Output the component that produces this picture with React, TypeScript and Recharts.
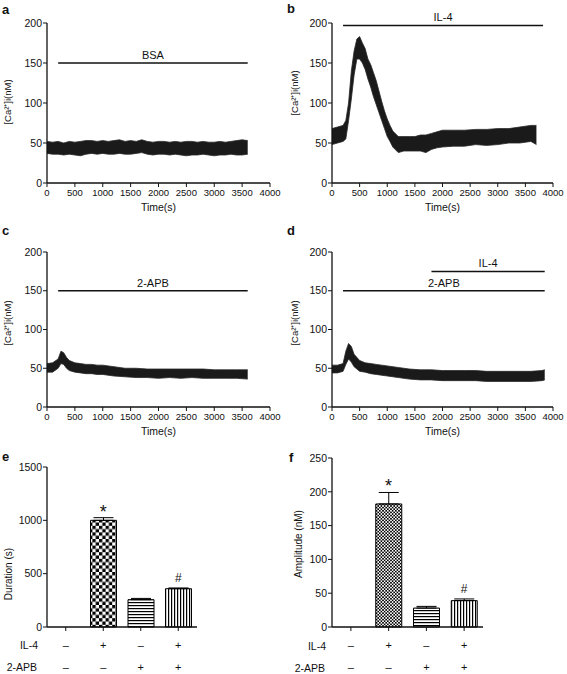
import React from 'react'
import {
  ComposedChart,
  Area,
  Bar,
  Cell,
  ErrorBar,
  Scatter,
  XAxis,
  YAxis,
  ReferenceLine,
} from 'recharts'

const FONT = '"Liberation Sans", Arial, Helvetica, sans-serif'
const INK = '#111'

// shared axes
const timeTicks = [0, 500, 1000, 1500, 2000, 2500, 3000, 3500, 4000]
const caTicks = [0, 50, 100, 150, 200]

// panel a: BSA, band of the noisy trace (low / high edge)
const bsaTime = [0, 100, 200, 300, 400, 500, 600, 700, 800, 900, 1000, 1100, 1200, 1300, 1400, 1500, 1600, 1700, 1800, 1900, 2000, 2100, 2200, 2300, 2400, 2500, 2600, 2700, 2800, 2900, 3000, 3100, 3200, 3300, 3400, 3500, 3600]
const bsaLow = [37, 36, 36, 35, 36, 35, 34, 36, 37, 36, 37, 36, 36, 37, 36, 36, 37, 38, 36, 35, 36, 36, 35, 36, 35, 34, 35, 35, 36, 35, 34, 35, 35, 36, 35, 35, 36]
const bsaHigh = [52, 51, 52, 50, 52, 51, 52, 53, 53, 52, 53, 52, 53, 54, 52, 53, 52, 54, 52, 51, 52, 52, 51, 52, 51, 52, 52, 51, 52, 51, 51, 52, 51, 52, 53, 54, 53]

// panel b: IL-4
const il4Time = [0, 100, 200, 250, 300, 350, 400, 450, 500, 550, 600, 650, 700, 750, 800, 850, 900, 950, 1000, 1050, 1100, 1200, 1300, 1400, 1500, 1600, 1700, 1800, 1900, 2000, 2200, 2400, 2600, 2800, 3000, 3200, 3400, 3600, 3700]
const il4Low = [48, 50, 52, 55, 78, 105, 135, 155, 155, 150, 142, 130, 120, 108, 98, 88, 78, 68, 58, 52, 45, 38, 40, 40, 40, 40, 38, 42, 44, 45, 46, 46, 48, 47, 48, 50, 50, 52, 48]
const il4High = [68, 70, 72, 78, 100, 140, 165, 180, 183, 175, 168, 155, 148, 138, 128, 115, 102, 90, 80, 72, 65, 58, 58, 58, 58, 60, 60, 62, 64, 66, 66, 66, 67, 67, 68, 68, 70, 72, 72]

// panel c: 2-APB
const apbTime = [0, 100, 200, 250, 300, 350, 400, 500, 600, 700, 800, 900, 1000, 1200, 1400, 1600, 1800, 2000, 2200, 2400, 2600, 2800, 3000, 3200, 3400, 3600]
const apbLow = [45, 45, 50, 56, 55, 50, 47, 45, 44, 43, 43, 42, 42, 40, 39, 38, 38, 37, 38, 37, 38, 37, 37, 37, 37, 36]
const apbHigh = [56, 57, 62, 72, 70, 64, 60, 57, 56, 55, 55, 54, 54, 52, 50, 50, 49, 49, 49, 49, 49, 49, 48, 48, 48, 48]

// panel d: 2-APB then IL-4
const bothTime = [0, 100, 200, 250, 300, 350, 400, 500, 600, 700, 800, 1000, 1200, 1400, 1600, 1800, 2000, 2200, 2400, 2600, 2800, 3000, 3200, 3400, 3600, 3800, 3850]
const bothLow = [44, 44, 46, 55, 62, 58, 52, 46, 45, 43, 42, 40, 38, 36, 35, 35, 34, 34, 34, 34, 33, 33, 33, 33, 33, 34, 35]
const bothHigh = [54, 54, 56, 72, 82, 78, 68, 60, 57, 56, 55, 53, 51, 49, 48, 48, 47, 47, 47, 47, 46, 46, 46, 46, 46, 47, 48]

// treatment bars: [label, start(s), end(s), level(nM)]
const bsaBars = [['BSA', 200, 3600, 150]]
const il4Bars = [['IL-4', 200, 3820, 197]]
const apbBars = [['2-APB', 200, 3600, 150]]
const bothBars = [['2-APB', 200, 3850, 150], ['IL-4', 1800, 3850, 175]]

// panels e, f
const groups = ['ctrl', 'il4', 'apb', 'both']
const il4Signs = ['–', '+', '–', '+']
const apbSigns = ['–', '–', '+', '+']
const durationMean = [0, 1000, 256, 359]
const durationErr = [0, 25, 12, 7]
const durationTicks = [0, 500, 1000, 1500]
const amplitudeMean = [0, 182, 28, 39]
const amplitudeErr = [0, 17, 2.5, 2.5]
const amplitudeTicks = [0, 50, 100, 150, 200, 250]
const marks = ['', '*', '', '#']

const axisLine = { stroke: INK, strokeWidth: 1.3 }
const tickLine = { stroke: INK, strokeWidth: 1 }

function toBand(time: number[], low: number[], high: number[]) {
  return time.map((t, i) => ({ t, band: [low[i], high[i]] }))
}

function Title({ x, y, text, size = 10 }: { x: number; y: number; text: string; size?: number }) {
  return (
    <div
      style={{
        position: 'absolute',
        left: x,
        top: y,
        transform: 'translate(-50%, -50%) rotate(-90deg)',
        whiteSpace: 'nowrap',
        fontSize: size,
        color: INK,
      }}
    >
      {text}
    </div>
  )
}

function Letter({ x, y, text }: { x: number; y: number; text: string }) {
  return (
    <div style={{ position: 'absolute', left: x, top: y, fontSize: 13, fontWeight: 'bold', lineHeight: 1 }}>
      {text}
    </div>
  )
}

function RowLabel({ right, y, text }: { right: number; y: number; text: string }) {
  return (
    <div
      style={{
        position: 'absolute',
        left: right - 60,
        width: 60,
        top: y - 7,
        lineHeight: '14px',
        textAlign: 'right',
        fontSize: 10.5,
        color: INK,
      }}
    >
      {text}
    </div>
  )
}

interface TraceProps {
  left: number
  top: number
  width: number
  height: number
  margin: { top: number; right: number; bottom: number; left: number }
  yWidth: number
  data: { t: number; band: number[] }[]
  bars: (string | number)[][]
}

function Trace({ left, top, width, height, margin, yWidth, data, bars }: TraceProps) {
  return (
    <div style={{ position: 'absolute', left, top }}>
      <ComposedChart width={width} height={height} data={data} margin={margin}>
        <XAxis
          type="number"
          dataKey="t"
          domain={[0, 4000]}
          ticks={timeTicks}
          interval={0}
          height={30}
          tickSize={4}
          tickMargin={2}
          axisLine={axisLine}
          tickLine={tickLine}
          tick={{ fontSize: 9.5, fill: INK, fontFamily: FONT }}
          label={{ value: 'Time(s)', position: 'insideBottom', offset: 2, fontSize: 10.5, fill: INK, fontFamily: FONT }}
        />
        <YAxis
          type="number"
          domain={[0, 200]}
          ticks={caTicks}
          interval={0}
          width={yWidth}
          tickSize={4}
          tickMargin={1}
          axisLine={axisLine}
          tickLine={tickLine}
          tick={{ fontSize: 10.5, fill: INK, fontFamily: FONT }}
        />
        <Area
          type="linear"
          dataKey="band"
          stroke="#262626"
          strokeWidth={0.8}
          fill="#1a1a1a"
          fillOpacity={1}
          dot={false}
          activeDot={false}
          isAnimationActive={false}
        />
        {bars.map(([label, start, end, level]) => (
          <ReferenceLine
            key={String(label) + level}
            segment={[
              { x: start as number, y: level as number },
              { x: end as number, y: level as number },
            ]}
            stroke={INK}
            strokeWidth={1.5}
            label={{ value: label, position: 'top', offset: 4, fontSize: 11, fill: INK, fontFamily: FONT }}
          />
        ))}
      </ComposedChart>
    </div>
  )
}

function SignTick(props: any) {
  const { x, y, index } = props
  const style = { fontSize: 11, fill: INK, fontFamily: FONT }
  return (
    <g>
      <text x={x} y={y + 12} textAnchor="middle" dominantBaseline="central" {...style}>
        {il4Signs[index]}
      </text>
      <text x={x} y={y + 34} textAnchor="middle" dominantBaseline="central" {...style}>
        {apbSigns[index]}
      </text>
    </g>
  )
}

function MarkShape(props: any) {
  const { cx, cy, payload } = props
  if (!payload.mark) return <g />
  const star = payload.mark === '*'
  return (
    <text
      x={cx}
      y={cy - (star ? 0 : 6)}
      textAnchor="middle"
      fontSize={star ? 18 : 12}
      fill={INK}
      fontFamily={FONT}
    >
      {payload.mark}
    </text>
  )
}

interface BarsProps {
  left: number
  top: number
  width: number
  height: number
  margin: { top: number; right: number; bottom: number; left: number }
  yWidth: number
  mean: number[]
  err: number[]
  ticks: number[]
  id: string
  cell: number
}

function BarPanel({ left, top, width, height, margin, yWidth, mean, err, ticks, id, cell }: BarsProps) {
  const data = groups.map((g, i) => ({
    group: g,
    mean: mean[i],
    err: [0, err[i]],
    markAt: mean[i] + err[i],
    mark: marks[i],
  }))
  const fills = ['none', `url(#${id}-check)`, `url(#${id}-h)`, `url(#${id}-v)`]
  return (
    <div style={{ position: 'absolute', left, top }}>
      <ComposedChart width={width} height={height} data={data} margin={margin}>
        <defs>
          <pattern id={`${id}-check`} patternUnits="userSpaceOnUse" width={cell * 2} height={cell * 2}>
            <rect width={cell * 2} height={cell * 2} fill="#fff" />
            <rect width={cell} height={cell} fill="#000" />
            <rect x={cell} y={cell} width={cell} height={cell} fill="#000" />
          </pattern>
          <pattern id={`${id}-h`} patternUnits="userSpaceOnUse" width={4} height={3}>
            <rect width={4} height={3} fill="#fff" />
            <rect width={4} height={1.2} fill="#000" />
          </pattern>
          <pattern id={`${id}-v`} patternUnits="userSpaceOnUse" width={3} height={4}>
            <rect width={3} height={4} fill="#fff" />
            <rect width={1.2} height={4} fill="#000" />
          </pattern>
        </defs>
        <XAxis
          dataKey="group"
          height={47}
          tickSize={4}
          tickMargin={2}
          axisLine={axisLine}
          tickLine={tickLine}
          tick={SignTick}
          interval={0}
        />
        <YAxis
          type="number"
          domain={[0, ticks[ticks.length - 1]]}
          ticks={ticks}
          interval={0}
          width={yWidth}
          tickSize={4}
          tickMargin={1}
          axisLine={axisLine}
          tickLine={tickLine}
          tick={{ fontSize: 10.5, fill: INK, fontFamily: FONT }}
        />
        <Bar dataKey="mean" barSize={26} stroke="#000" strokeWidth={1} isAnimationActive={false}>
          {data.map((d, i) => (
            <Cell key={d.group} fill={fills[i]} stroke={i === 0 ? 'none' : '#000'} />
          ))}
          <ErrorBar dataKey="err" width={10} stroke="#000" strokeWidth={1} direction="y" />
        </Bar>
        <Scatter dataKey="markAt" shape={MarkShape} isAnimationActive={false} />
      </ComposedChart>
    </div>
  )
}

export default function App() {
  return (
    <div
      style={{
        position: 'absolute',
        left: 0,
        top: 0,
        width: 567,
        height: 674,
        background: '#fff',
        fontFamily: FONT,
        color: INK,
        overflow: 'hidden',
      }}
    >
      <Trace
        left={0}
        top={0}
        width={283}
        height={220}
        margin={{ top: 23, right: 13, bottom: 7, left: 0 }}
        yWidth={47}
        data={toBand(bsaTime, bsaLow, bsaHigh)}
        bars={bsaBars}
      />
      <Trace
        left={283}
        top={0}
        width={284}
        height={220}
        margin={{ top: 23, right: 14, bottom: 7, left: 0 }}
        yWidth={49}
        data={toBand(il4Time, il4Low, il4High)}
        bars={il4Bars}
      />
      <Trace
        left={0}
        top={230}
        width={283}
        height={210}
        margin={{ top: 22, right: 13, bottom: 3, left: 0 }}
        yWidth={47}
        data={toBand(apbTime, apbLow, apbHigh)}
        bars={apbBars}
      />
      <Trace
        left={283}
        top={230}
        width={284}
        height={210}
        margin={{ top: 22, right: 14, bottom: 3, left: 0 }}
        yWidth={49}
        data={toBand(bothTime, bothLow, bothHigh)}
        bars={bothBars}
      />
      <BarPanel
        left={0}
        top={440}
        width={283}
        height={234}
        margin={{ top: 27, right: 86, bottom: 0, left: 0 }}
        yWidth={47}
        mean={durationMean}
        err={durationErr}
        ticks={durationTicks}
        id="dur"
        cell={3.3}
      />
      <BarPanel
        left={283}
        top={430}
        width={284}
        height={244}
        margin={{ top: 28, right: 84, bottom: 0, left: 0 }}
        yWidth={49}
        mean={amplitudeMean}
        err={amplitudeErr}
        ticks={amplitudeTicks}
        id="amp"
        cell={1.6}
      />

      <Title x={7} y={102} text="[Ca²⁺]i(nM)" size={9.5} />
      <Title x={294} y={93} text="[Ca²⁺]i(nM)" size={9.5} />
      <Title x={7} y={323} text="[Ca²⁺]i(nM)" size={9.5} />
      <Title x={294} y={323} text="[Ca²⁺]i(nM)" size={9.5} />
      <Title x={8} y={574} text="Duration (s)" />
      <Title x={298} y={544} text="Amplitude (nM)" />

      <RowLabel right={38} y={645} text="IL-4" />
      <RowLabel right={37} y={667} text="2-APB" />
      <RowLabel right={326} y={646} text="IL-4" />
      <RowLabel right={325} y={668} text="2-APB" />

      <Letter x={2} y={3} text="a" />
      <Letter x={287} y={2} text="b" />
      <Letter x={2} y={224} text="c" />
      <Letter x={287} y={224} text="d" />
      <Letter x={2} y={450} text="e" />
      <Letter x={289} y={451} text="f" />
    </div>
  )
}
